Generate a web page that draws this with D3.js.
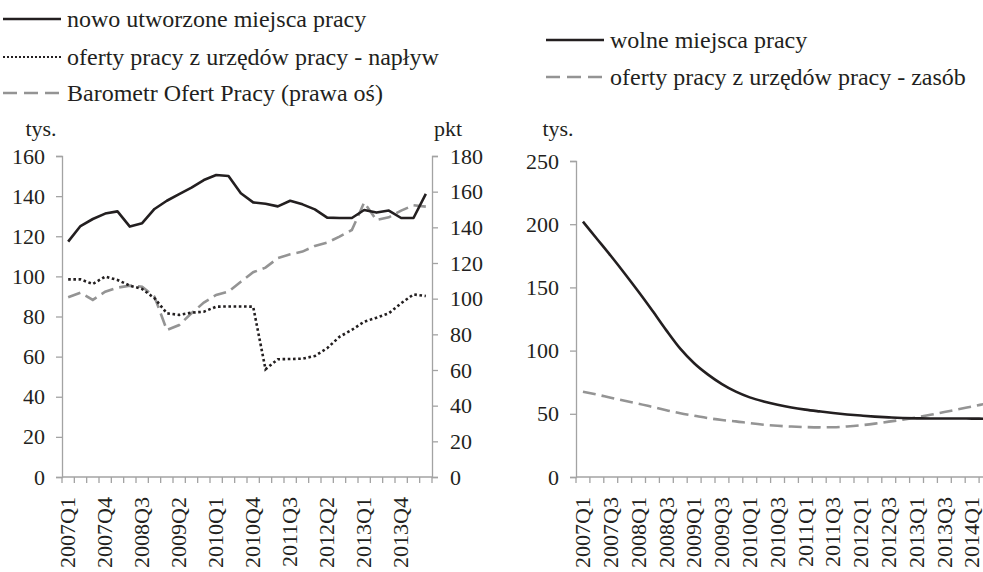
<!DOCTYPE html>
<html>
<head>
<meta charset="utf-8">
<script src="https://cdn.jsdelivr.net/npm/d3@7"></script>
<style>
  body { margin: 0; background: #fff; }
</style>
</head>
<body>
<script>
// quarters 2007Q1 .. 2014Q2
const quarters = [];
for (let y = 2007; y <= 2014; y++) for (let q = 1; q <= 4; q++) quarters.push(y + "Q" + q);
quarters.splice(30);

// left panel (tys. / pkt)
const nowe = [117.3, 125.1, 128.6, 131.3, 132.4, 124.8, 126.5, 133.6, 137.7, 141.0,
              144.2, 148.0, 150.5, 150.0, 141.4, 136.9, 136.2, 134.9, 137.7, 135.9,
              133.4, 129.3, 129.1, 129.1, 133.1, 131.8, 132.8, 129.1, 129.1, 141.1];
const naplyw = [98.5, 98.5, 96.2, 99.9, 98.2, 95.4, 93.7, 89.1, 81.6, 80.8,
                81.9, 82.4, 84.9, 85.0, 85.0, 84.9, 53.7, 58.7, 58.8, 59.0,
                60.3, 64.2, 69.9, 73.3, 77.4, 79.4, 81.6, 86.6, 91.0, 90.2];
const barometr = [100.8, 103.4, 99.3, 103.9, 106.2, 107.3, 106.7, 101.1, 82.4, 85.2,
                  91.8, 97.8, 102.1, 103.9, 109.5, 114.8, 117.4, 122.7, 124.9, 126.4,
                  129.6, 131.4, 134.8, 138.5, 153.9, 144.1, 145.6, 149.4, 152.4, 151.6];

// right panel (tys.)
const wolne = [202, 188.5, 175, 161, 146.5, 131.5, 116, 101.5, 90, 81,
               73.5, 67.5, 63, 59.8, 57.2, 55, 53.3, 51.9, 50.6, 49.5,
               48.6, 47.8, 47.2, 46.7, 46.4, 46.3, 46.3, 46.3, 46.2, 46.1];
const zasob = [67.5, 65.2, 62.7, 60.3, 58, 55.4, 52.8, 50.4, 48.5, 46.6,
               45.1, 44, 42.6, 41.4, 40.5, 39.9, 39.5, 39.3, 39.4, 40,
               40.9, 42.2, 43.8, 45.3, 47.1, 49.2, 51.4, 53.6, 55.8, 58];

const leftTicks = [0, 20, 40, 60, 80, 100, 120, 140, 160];
const rightTicks = [0, 20, 40, 60, 80, 100, 120, 140, 160, 180];
const panel2Ticks = [0, 50, 100, 150, 200, 250];

const ink = "#231f20", grey = "#949494", axisGrey = "#a3a3a3";
const font = "'Liberation Serif', 'Times New Roman', Tinos, serif";
const fs = 22, legendFs = 24;

const svg = d3.select("body").append("svg")
    .attr("width", 983).attr("height", 572)
    .attr("font-family", font);

function styleText(sel, size) {
    return sel.attr("font-family", font).style("font-family", font)
        .style("font-size", (size || fs) + "px").attr("fill", ink);
}

// ---------- left panel ----------
const x1 = d3.scaleBand().domain(quarters).range([62, 432]);
const yL = d3.scaleLinear().domain([0, 160]).range([477, 156]);
const yR = d3.scaleLinear().domain([0, 180]).range([477, 156]);

// ---------- right panel ----------
const x2 = d3.scaleBand().domain(quarters).range([576, 576 + 30 * 13.9]);
const y2 = d3.scaleLinear().domain([0, 250]).range([477, 161]);

function yAxis(scale, ticks, xpos, side) {
    const g = svg.append("g").attr("transform", "translate(" + xpos + ",0)");
    const ax = (side == "left" ? d3.axisLeft(scale) : d3.axisRight(scale))
        .tickValues(ticks).tickSize(6).tickPadding(side == "left" ? 11 : 12);
    g.call(ax);
    g.attr("font-family", font);
    g.select(".domain").attr("stroke", axisGrey).attr("stroke-width", 1.3);
    g.selectAll(".tick line").attr("stroke", axisGrey).attr("stroke-width", 1.3);
    styleText(g.selectAll(".tick text"));
    return g;
}

function xAxis(scale, every) {
    const g = svg.append("g");
    const r = scale.range();
    g.append("line")
        .attr("x1", r[0]).attr("x2", r[1]).attr("y1", 477).attr("y2", 477)
        .attr("stroke", axisGrey).attr("stroke-width", 1.3);
    const bounds = scale.domain().map(d => scale(d)).concat([r[1]]);
    g.selectAll("line.tk").data(bounds).join("line").attr("class", "tk")
        .attr("x1", d => d).attr("x2", d => d).attr("y1", 477).attr("y2", 483)
        .attr("stroke", axisGrey).attr("stroke-width", 1.3);
    styleText(g.selectAll("text").data(scale.domain().filter((d, i) => i % every == 0)).join("text")
        .attr("transform", d => "translate(" + (scale(d) + scale.bandwidth() / 2) + ",497) rotate(-90)")
        .attr("text-anchor", "end").attr("dy", "0.33em")
        .text(d => d));
}

xAxis(x1, 3);
yAxis(yL, leftTicks, 62, "left");
yAxis(yR, rightTicks, 432, "right");
xAxis(x2, 2);
yAxis(y2, panel2Ticks, 576, "left");

styleText(svg.append("text").attr("x", 41).attr("y", 136).attr("text-anchor", "middle").text("tys."));
styleText(svg.append("text").attr("x", 448).attr("y", 136).attr("text-anchor", "middle").text("pkt"));
styleText(svg.append("text").attr("x", 558).attr("y", 136).attr("text-anchor", "middle").text("tys."));

// ---------- lines ----------
function lineFor(xs, ys, vals, curve) {
    return d3.line()
        .x((d, i) => xs(quarters[i]) + xs.bandwidth() / 2)
        .y(d => ys(d))
        .curve(curve || d3.curveLinear)(vals);
}

svg.append("path").attr("d", lineFor(x1, yR, barometr))
    .attr("fill", "none").attr("stroke", grey).attr("stroke-width", 2.6)
    .attr("stroke-dasharray", "13,6");
svg.append("path").attr("d", lineFor(x1, yL, naplyw))
    .attr("fill", "none").attr("stroke", ink).attr("stroke-width", 2.6)
    .attr("stroke-dasharray", "2.6,2.6");
svg.append("path").attr("d", lineFor(x1, yL, nowe))
    .attr("fill", "none").attr("stroke", ink).attr("stroke-width", 2.6)
    .attr("stroke-linejoin", "round");

svg.append("path").attr("d", lineFor(x2, y2, zasob, d3.curveMonotoneX))
    .attr("fill", "none").attr("stroke", grey).attr("stroke-width", 2.6)
    .attr("stroke-dasharray", "13,6");
svg.append("path").attr("d", lineFor(x2, y2, wolne, d3.curveMonotoneX))
    .attr("fill", "none").attr("stroke", ink).attr("stroke-width", 2.6);

// ---------- legends ----------
const legendLeft = [
    { label: "nowo utworzone miejsca pracy", color: ink, dash: null, w: 2.6 },
    { label: "oferty pracy z urzędów pracy - napływ", color: ink, dash: "2,2", w: 2 },
    { label: "Barometr Ofert Pracy (prawa oś)", color: grey, dash: "14,7", w: 2.6 }
];
const legendRight = [
    { label: "wolne miejsca pracy", color: ink, dash: null, w: 2.6 },
    { label: "oferty pracy z urzędów pracy - zasób", color: grey, dash: "14,7", w: 2.6 }
];

function legend(items, x0, ys) {
    items.forEach((it, i) => {
        const y = ys[i];
        svg.append("line").attr("x1", x0).attr("x2", x0 + 58).attr("y1", y).attr("y2", y)
            .attr("stroke", it.color).attr("stroke-width", it.w)
            .attr("stroke-dasharray", it.dash);
        styleText(svg.append("text").attr("x", x0 + 64).attr("y", y + 8).text(it.label), legendFs);
    });
}
legend(legendLeft, 3, [19, 57, 93]);
legend(legendRight, 546, [40, 77]);
</script>
</body>
</html>
